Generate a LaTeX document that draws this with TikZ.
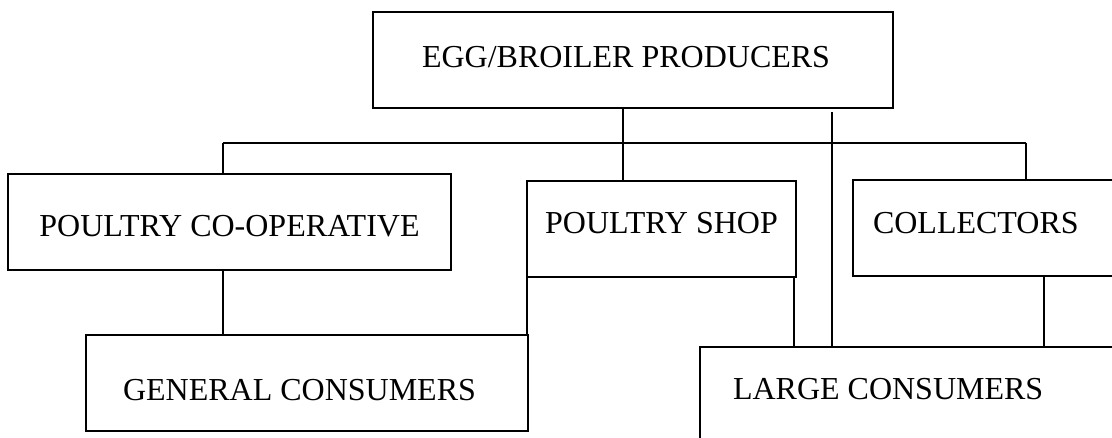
\documentclass[tikz,border=0pt]{standalone}
\usepackage{fontspec}
\setmainfont{Liberation Serif}
\tikzset{
  box/.style={draw,line width=2.4pt,anchor=north west,outer sep=0pt,inner ysep=0pt,
    minimum height=96pt,text height=21pt,text depth=0pt,font=\fontsize{32pt}{38pt}\selectfont},
  flushbox/.style 2 args={box,text width=#1,inner xsep=#2,align=flush left},
  link/.style={line width=1.3pt}
}

\begin{document}
\begin{tikzpicture}[x=1pt,y=-1pt]
  \useasboundingbox (0,0) rectangle (1112,438);
  \clip (0,0) rectangle (1112,438);
  % boxes, placed by their top left corner
  \node[flushbox={422pt}{49pt},text depth=5pt] (prod) at (373,12) {EGG/BROILER PRODUCERS};
  \node[box,minimum width=443pt,text height=29pt] (coop) at (8,174) {POULTRY CO-OPERATIVE};
  \node[box,minimum width=269pt,text depth=11pt] (shop) at (527,181) {POULTRY SHOP};
  \node[flushbox={260pt}{20pt},text depth=10pt] (coll) at (853,180) {COLLECTORS};
  \node[flushbox={368pt}{37pt},text height=35pt] (gen) at (86,335) {GENERAL CONSUMERS};
  \node[flushbox={374pt}{33pt},text depth=12pt] (large) at (700,347) {LARGE CONSUMERS};
  % distribution bus
  \coordinate (busL) at (223,143);
  \coordinate (busR) at (1026,143);
  \coordinate (shopIn) at ([xshift=96pt]shop.north west);
  \coordinate (largeIn) at ([xshift=132pt]large.north west);
  \draw[link] (busL) -- (busR);
  \draw[link] (prod.south -| shopIn) -- (shopIn);
  \draw[link] ([yshift=-4pt]prod.south -| largeIn) -- (largeIn);
  \draw[link] (busL) -- (busL |- coop.north);
  \draw[link] (busR) -- (busR |- coll.north);
  % lower links
  \draw[link] (coop.south -| busL) -- (gen.north -| busL);
  \draw[link] (shop.south west) -- (shop.south west |- gen.north);
  \draw[link] ([xshift=-2pt]shop.south east) -- ([xshift=-2pt]shop.south east |- large.north);
  \draw[link] ([xshift=191pt]coll.south west) -- ([xshift=191pt]coll.south west |- large.north);
\end{tikzpicture}
\end{document}
